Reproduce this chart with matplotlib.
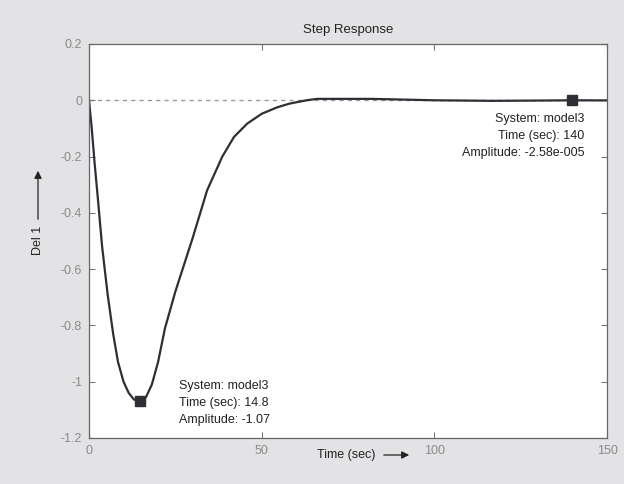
import matplotlib
matplotlib.use("Agg")
import matplotlib.pyplot as plt

plt.rcParams['font.family'] = ['Liberation Sans', 'DejaVu Sans']

# Step response of model3 (time in seconds, amplitude)
time_s = [0, 0.4, 0.8, 1.6, 2.5, 3.8, 5.4, 7.0, 8.4, 10.0, 11.5, 13.0, 14.8,
          16.5, 18.2, 20.0, 22.0, 25.0, 30.0, 34.2, 38.6, 42.0, 45.8, 50.0,
          54.5, 58.0, 63.0, 66.0, 75.0, 82.0, 100.0, 117.0, 130.0, 140.0, 150.0]
amplitude = [0, -0.05, -0.10, -0.22, -0.34, -0.52, -0.69, -0.83, -0.93, -1.00,
             -1.04, -1.063, -1.07, -1.055, -1.01, -0.93, -0.81, -0.68, -0.49,
             -0.32, -0.20, -0.13, -0.083, -0.048, -0.025, -0.012, 0.0, 0.005,
             0.005, 0.005, 0.0, -0.002, -0.001, -0.0000258, -0.0005]

# Data-tip points
tip_time = [14.8, 140]
tip_amp = [-1.07, -2.58e-5]

x_ticks = [0, 50, 100, 150]
y_ticks = [0.2, 0, -0.2, -0.4, -0.6, -0.8, -1, -1.2]
y_tick_labels = ['0.2', '0', '-0.2', '-0.4', '-0.6', '-0.8', '-1', '-1.2']

W, H = 624, 484
fig = plt.figure(figsize=(W / 100, H / 100), dpi=100, facecolor='#e3e3e6')
ax = fig.add_axes([89 / W, 1 - 438 / H, (607 - 89) / W, (438 - 44) / H])
ax.set_facecolor('white')

ax.axhline(0, color='#999999', lw=1.0, ls=(0, (3, 3)), zorder=1)
ax.plot(time_s, amplitude, color='#2e2e35', lw=1.6, zorder=2)
ax.plot(tip_time, tip_amp, ls='none', marker='s', ms=6.5, color='#2e2e35', zorder=3)

ax.set_xlim(0, 150)
ax.set_ylim(-1.2, 0.2)
ax.set_xticks(x_ticks)
ax.set_xticklabels([str(v) for v in x_ticks])
ax.set_yticks(y_ticks)
ax.set_yticklabels(y_tick_labels)
ax.tick_params(direction='in', length=4, width=0.8, color='#777777',
               labelcolor='#8a8a8a', labelsize=9, top=True, right=True, pad=5)
for s in ax.spines.values():
    s.set_color('#666666')
    s.set_linewidth(0.9)

ax.set_title('Step Response', fontsize=9.5, color='#222222', pad=8)

# Data-tip text boxes
ax.text(26.0, -0.995, 'System: model3\nTime (sec): 14.8\nAmplitude: -1.07',
        fontsize=9, color='#222222', va='top', ha='left', linespacing=1.55)
ax.text(143.5, -0.045, 'System: model3\nTime (sec): 140\nAmplitude: -2.58e-005',
        fontsize=9, color='#222222', va='top', ha='right', linespacing=1.55)

# Axis labels with arrows
fig.text(346 / W, 1 - 455 / H, 'Time (sec)', fontsize=9, color='#222222',
         ha='center', va='center')
fig.add_artist(matplotlib.patches.FancyArrowPatch(
    (381 / W, 1 - 455 / H), (412 / W, 1 - 455 / H), transform=fig.transFigure,
    arrowstyle='-|>', mutation_scale=11, lw=0.9, color='#222222'))
fig.text(38 / W, 1 - 240 / H, 'Del 1', fontsize=9, color='#222222',
         ha='center', va='center', rotation=90)
fig.add_artist(matplotlib.patches.FancyArrowPatch(
    (38 / W, 1 - 222 / H), (38 / W, 1 - 168 / H), transform=fig.transFigure,
    arrowstyle='-|>', mutation_scale=11, lw=0.9, color='#222222'))

fig.savefig('out.png', dpi=100, facecolor=fig.get_facecolor())
